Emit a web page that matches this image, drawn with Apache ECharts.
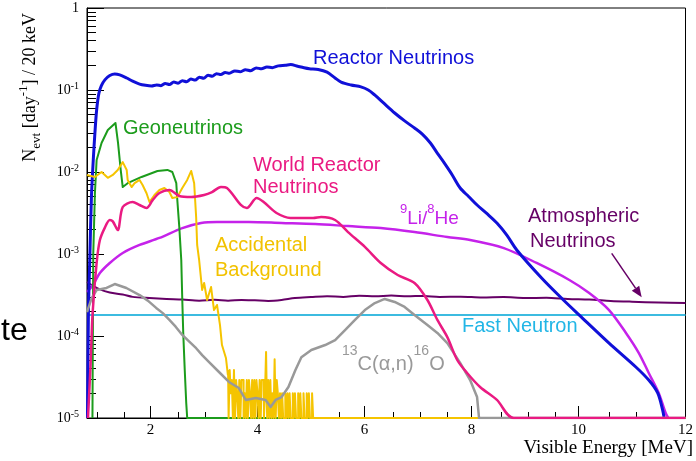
<!DOCTYPE html>
<html>
<head>
<meta charset="utf-8">
<script src="https://cdn.jsdelivr.net/npm/echarts@6/dist/echarts.min.js"></script>
<style>html,body{margin:0;padding:0;background:#fff;}#chart{width:696px;height:461px;}</style>
</head>
<body>
<div id="chart"></div>
<script>
// ---------- axes ----------
const X_MIN = 0.813, X_MAX = 12, Y_MIN = 1e-5, Y_MAX = 1;
const xMajorTicks = [2, 4, 6, 8, 10, 12];
const xMinorTicks = [1, 1.5, 2.5, 3, 3.5, 4.5, 5, 5.5, 6.5, 7, 7.5, 8.5, 9, 9.5, 10.5, 11, 11.5];
const yMinorTicks = [2e-5,3e-5,4e-5,5e-5,6e-5,7e-5,8e-5,9e-5,
  2e-4,3e-4,4e-4,5e-4,6e-4,7e-4,8e-4,9e-4,
  2e-3,3e-3,4e-3,5e-3,6e-3,7e-3,8e-3,9e-3,
  0.02,0.03,0.04,0.05,0.06,0.07,0.08,0.09,
  0.2,0.3,0.4,0.5,0.6,0.7,0.8,0.9];

// ---------- series values [energy MeV, events/day/20keV] ----------
const reactor = [[0.822,1e-5],[0.840,2e-4],[0.868,1.03e-3],[0.896,5e-3],[0.930,0.014],[0.961,0.03],[0.993,0.057],[1.035,0.091],[1.082,0.113],[1.147,0.133],[1.239,0.15],[1.332,0.157],[1.425,0.153],[1.555,0.14],[1.666,0.128],[1.796,0.118],[1.907,0.114],[2.019,0.112],
  [2.115,0.115],[2.195,0.113],[2.275,0.120],[2.355,0.117],[2.435,0.125],[2.515,0.121],[2.595,0.130],[2.675,0.126],[2.755,0.136],[2.835,0.132],[2.915,0.143],[2.995,0.139],[3.075,0.151],[3.155,0.147],[3.235,0.158],[3.315,0.154],[3.395,0.164],[3.475,0.160],[3.575,0.171],[3.675,0.167],[3.775,0.177],[3.875,0.172],[3.975,0.186],[4.075,0.181],[4.175,0.191],[4.275,0.187],[4.39,0.197],[4.52,0.200],[4.62,0.204],[4.75,0.195],[4.87,0.187],[4.97,0.182],[5.135,0.178],[5.3,0.165],[5.45,0.14],[5.562,0.125],[5.75,0.115],[5.933,0.109],[6.07,0.1],[6.19,0.087],[6.35,0.07],[6.564,0.0524],[6.75,0.042],[6.935,0.0344],[7.08,0.029],[7.232,0.0226],[7.36,0.017],[7.49,0.0129],[7.64,0.0092],[7.788,0.00638],[7.95,0.0050],[8.104,0.00396],[8.29,0.0031],[8.475,0.00239],[8.66,0.0017],[8.846,0.00112],[9.31,5.1e-4],[9.718,2.75e-4],[10.015,1.8e-4],[10.571,8.2e-5],[11.072,4.19e-5],[11.313,2.9e-5],[11.48,2.02e-5],[11.573,1.25e-5],[11.601,1e-5]];

const geo = [[0.915,1e-5],[0.930,1e-3],[0.961,5.5e-3],[0.993,0.014],[1.085,0.0226],[1.202,0.0325],[1.345,0.0396],[1.393,0.0226],[1.443,0.0106],[1.481,6.56e-3],[1.573,7.3e-3],[1.833,8.7e-3],[2.13,0.0103],[2.315,0.0106],[2.408,0.01],[2.482,7.3e-3],[2.501,4.56e-3],[2.538,2.14e-3],[2.575,8.45e-4],[2.594,2.75e-4],[2.612,1.09e-4],[2.64,3.85e-5],[2.668,1.52e-5],[2.686,1e-5],[12,1e-5]];

const accidental = [[0.813,9.2e-3],[0.961,8.7e-3],[1.085,0.01],[1.202,8.5e-3],[1.295,9.2e-3],[1.388,0.0106],[1.481,0.0132],[1.555,0.0106],[1.573,8e-3],[1.647,6.56e-3],[1.703,7.3e-3],[1.796,8e-3],[1.852,6.94e-3],[1.926,5.5e-3],[1.981,4.3e-3],[2.074,5.24e-3],[2.167,6.03e-3],[2.26,6.38e-3],[2.353,5.7e-3],[2.408,4.82e-3],[2.501,4.94e-3],[2.594,6.38e-3],[2.686,8e-3],[2.761,0.0103],[2.816,7.3e-3],[2.853,2.83e-3],[2.872,1.29e-3],[2.909,8.45e-4],[2.965,3.64e-4],[3.002,4.43e-4],[3.058,2.75e-4],[3.132,3.96e-4],[3.187,2.07e-4],[3.243,2.39e-4],[3.299,1.36e-4],[3.336,7.76e-5],[3.41,5.4e-5],[3.447,3.34e-5]];

const accidentalTail = [[3.45,3.85e-5],[3.47,1e-5],[3.49,3.85e-5],[3.51,2.0e-5],[3.53,2.9e-5],[3.55,1e-5],[3.57,3.85e-5],[3.59,1e-5],[3.61,2.9e-5],[3.63,2.0e-5],[3.65,1e-5],[3.67,2.9e-5],[3.69,1e-5],[3.71,2.9e-5],[3.73,2.9e-5],[3.75,1e-5],[3.77,2.0e-5],[3.79,1e-5],[3.81,2.9e-5],[3.83,1e-5],[3.85,2.9e-5],[3.87,2.0e-5],[3.89,1e-5],[3.91,2.9e-5],[3.93,1e-5],[3.95,2.9e-5],[3.97,1e-5],[3.99,2.9e-5],[4.01,2.0e-5],[4.03,1e-5],[4.05,2.9e-5],[4.07,1e-5],[4.09,2.9e-5],[4.11,2.9e-5],[4.13,1e-5],[4.15,2.0e-5],[4.17,6.4e-5],[4.19,1e-5],[4.21,2.9e-5],[4.23,1e-5],[4.25,2.9e-5],[4.27,1e-5],[4.29,2.0e-5],[4.31,1e-5],[4.33,5.2e-5],[4.35,1e-5],[4.37,2.9e-5],[4.39,2.0e-5],[4.41,1e-5],[4.43,2.0e-5],[4.45,1e-5],[4.47,2.0e-5],[4.49,1e-5],[4.51,1e-5],[4.53,2.0e-5],[4.55,1e-5],[4.57,2.0e-5],[4.59,1e-5],[4.61,2.0e-5],[4.63,1e-5],[4.65,1e-5],[4.67,2.0e-5],[4.69,1e-5],[4.71,2.0e-5],[4.73,1e-5],[4.75,1e-5],[4.77,2.0e-5],[4.79,1e-5],[4.81,2.0e-5],[4.83,1e-5],[4.85,1e-5],[4.87,2.0e-5],[4.89,1e-5],[4.91,1e-5],[4.93,2.0e-5],[4.95,1e-5],[4.97,2.0e-5],[4.99,1e-5],[5.01,1e-5],[5.03,2.0e-5],[5.05,1e-5],[12,1e-5]];

const worldReactor = [[0.831,1e-5],[0.881,4.7e-5],[0.918,1.9e-4],[0.993,7.8e-4],[1.054,1.48e-3],[1.147,2.1e-3],[1.239,2.6e-3],[1.295,2.5e-3],[1.388,1.96e-3],[1.481,3.74e-3],[1.666,4.3e-3],[1.796,3.96e-3],[1.926,3.64e-3],[2.037,4.5e-3],[2.167,5.54e-3],[2.353,6.03e-3],[2.538,5.1e-3],[2.761,4.96e-3],[3.002,5.25e-3],[3.15,5.7e-3],[3.317,6.56e-3],[3.429,6.38e-3],[3.688,3.96e-3],[3.8,3.64e-3],[3.985,4.82e-3],[4.115,4.3e-3],[4.356,3.16e-3],[4.616,2.75e-3],[5.039,2.75e-3],[5.19,2.83e-3],[5.45,2.6e-3],[5.692,1.85e-3],[6.007,1.22e-3],[6.304,7.77e-4],[6.62,5.54e-4],[6.935,4.43e-4],[7.176,2.75e-4],[7.362,1.57e-4],[7.548,9.7e-5],[7.733,5.1e-5],[7.918,3.54e-5],[8.16,2.39e-5],[8.475,1.66e-5],[8.79,1e-5],[12,1e-5]];

const lihe = [[0.813,3.44e-4],[0.924,4.19e-4],[1.054,5.86e-4],[1.239,7.77e-4],[1.481,1.03e-3],[1.796,1.29e-3],[2.167,1.57e-3],[2.594,2.07e-3],[2.946,2.39e-3],[3.243,2.46e-3],[3.837,2.46e-3],[4.449,2.39e-3],[5.08,2.32e-3],[5.692,2.19e-3],[6.304,2.07e-3],[6.935,1.85e-3],[7.548,1.61e-3],[7.974,1.48e-3],[8.605,1.18e-3],[9.217,7.77e-4],[9.829,4.82e-4],[10.2,3.34e-4],[10.571,2.07e-4],[10.887,1.09e-4],[11.128,6.2e-5],[11.313,3.54e-5],[11.499,2.02e-5],[11.629,1.15e-5],[11.679,1e-5]];

const atmospheric = [[0.813,4.56e-4],[0.924,4.1e-4],[1.054,3.7e-4],[1.239,3.4e-4],[1.481,3.2e-4],[1.666,3.0e-4],[1.98,2.9e-4],[2.3,2.83e-4],[2.6,2.78e-4],[2.91,2.7e-4],[3.2,2.76e-4],[3.45,2.7e-4],[3.7,2.75e-4],[3.95,2.72e-4],[4.2,2.68e-4],[4.45,2.75e-4],[4.7,2.9e-4],[5.0,2.98e-4],[5.3,3.05e-4],[5.6,3.0e-4],[5.9,3.1e-4],[6.2,3.05e-4],[6.5,3.12e-4],[6.8,3.05e-4],[7.1,3.08e-4],[7.4,3.0e-4],[7.8,3.02e-4],[8.2,2.95e-4],[8.6,2.98e-4],[9.0,2.9e-4],[9.4,2.92e-4],[9.8,2.82e-4],[10.2,2.78e-4],[10.6,2.68e-4],[11.0,2.62e-4],[11.5,2.56e-4],[12,2.52e-4]];

const fastNeutron = [[0.813,1.8e-4],[12,1.8e-4]];

const carbon = [[0.813,1.96e-4],[0.9,2.9e-4],[0.993,3.64e-4],[1.178,3.85e-4],[1.332,4.3e-4],[1.549,3.85e-4],[1.796,3.16e-4],[1.95,2.7e-4],[2.106,2.2e-4],[2.23,1.9e-4],[2.353,1.57e-4],[2.47,1.3e-4],[2.594,1.03e-4],[2.72,8.6e-5],[2.853,7.1e-5],[2.97,5.8e-5],[3.095,4.8e-5],[3.28,3.64e-5],[3.466,2.75e-5],[3.651,2.32e-5],[3.781,1.66e-5],[3.967,1.75e-5],[4.152,1.66e-5],[4.245,1.36e-5],[4.338,1.66e-5],[4.45,1.8e-5],[4.578,2.39e-5],[4.709,3.85e-5],[4.82,5.5e-5],[5.006,6.75e-5],[5.265,7.76e-5],[5.451,8.9e-5],[5.636,1.18e-4],[5.822,1.57e-4],[6.007,2.07e-4],[6.193,2.52e-4],[6.378,2.83e-4],[6.564,2.6e-4],[6.75,2.26e-4],[6.935,1.8e-4],[7.176,1.36e-4],[7.362,1.09e-4],[7.548,8.2e-5],[7.788,4.7e-5],[7.974,2.9e-5],[8.104,1.8e-5],[8.141,1e-5],[12,1e-5]];

// ---------- styles ----------
const SERIF = 'Liberation Serif';
const SANS = 'Liberation Sans';
const C = {
  reactor: '#1010d8', geo: '#1c9c1c', acc: '#f5c400', world: '#ea1a82',
  lihe: '#c522ea', atm: '#660066', fast: '#3cbbe0', carbon: '#999999'
};

function line(name, data, color, width, extra) {
  return Object.assign({
    type: 'line', name: name, data: data, symbol: 'none', showSymbol: false,
    lineStyle: { color: color, width: width, join: 'round' }, itemStyle: { color: color },
    xAxisIndex: 0, yAxisIndex: 0, animation: false, silent: true
  }, extra || {});
}
const smooth = { smooth: 0.3 };

function label(text, x, baseline, color, size, extra) {
  const fs = size || 20;
  return Object.assign({
    type: 'text', x: x, y: baseline - 0.3465 * fs, z: 100,
    style: { text: text, fill: color, font: fs + 'px "' + SANS + '"', align: 'left', verticalAlign: 'middle' }
  }, extra || {});
}

const chart = echarts.init(document.getElementById('chart'), null, { renderer: 'canvas' });

const option = {
  animation: false,
  backgroundColor: '#ffffff',
  grid: [
    { left: 87, right: 6, top: 8, bottom: 43, show: true, borderColor: '#000', borderWidth: 1, backgroundColor: 'transparent', containLabel: false },
    { left: 87, right: 6, top: 8, bottom: 43, show: false, containLabel: false }
  ],
  xAxis: [
    { type: 'value', gridIndex: 0, min: X_MIN, max: X_MAX, position: 'bottom',
      axisLine: { show: true, onZero: false, lineStyle: { color: '#000', width: 1 } },
      axisTick: { show: true, inside: true, length: 12, customValues: xMajorTicks, lineStyle: { color: '#000', width: 1 } },
      axisLabel: { show: true, customValues: xMajorTicks, fontFamily: SERIF, fontSize: 15, color: '#000', margin: 5 },
      splitLine: { show: false } },
    { type: 'value', gridIndex: 1, min: X_MIN, max: X_MAX, position: 'bottom',
      axisLine: { show: false, onZero: false },
      axisTick: { show: true, inside: true, length: 6, customValues: xMinorTicks, lineStyle: { color: '#000', width: 1 } },
      axisLabel: { show: false }, splitLine: { show: false } }
  ],
  yAxis: [
    { type: 'log', gridIndex: 0, logBase: 10, min: Y_MIN, max: Y_MAX, position: 'left',
      axisLine: { show: true, onZero: false, lineStyle: { color: '#000', width: 1 } },
      axisTick: { show: true, inside: true, length: 17, lineStyle: { color: '#000', width: 1 } },
      axisLabel: {
        show: true, margin: 8, color: '#000',
        formatter: function (v) {
          const e = Math.round(Math.log10(v));
          return e === 0 ? '{b|1}' : '{b|10}{s|' + e + '}';
        },
        rich: {
          b: { fontFamily: SERIF, fontSize: 14, lineHeight: 18, color: '#000' },
          s: { fontFamily: SERIF, fontSize: 10, lineHeight: 10, verticalAlign: 'top', color: '#000' }
        }
      },
      splitLine: { show: false }, minorTick: { show: false } },
    { type: 'value', gridIndex: 1, min: -5, max: 0, position: 'left',
      axisLine: { show: false, onZero: false },
      axisTick: { show: true, inside: true, length: 9, customValues: yMinorTicks.map(function (v) { return Math.log10(v); }), lineStyle: { color: '#000', width: 1 } },
      axisLabel: { show: false }, splitLine: { show: false } }
  ],
  series: [
    line('Fast Neutron', fastNeutron, C.fast, 2),
    line('Atmospheric Neutrinos', atmospheric, C.atm, 2, smooth),
    line('9Li/8He', lihe, C.lihe, 2.5, smooth),
    line('Reactor Neutrinos', reactor, C.reactor, 3, smooth),
    line('Geoneutrinos', geo, C.geo, 2),
    line('Accidental Background', accidental, C.acc, 2),
    line('Accidental Background tail', accidentalTail, C.acc, 2, { step: 'middle' }),
    line('13C(α,n)16O', carbon, C.carbon, 2.5),
    line('World Reactor Neutrinos', worldReactor, C.world, 2.5, smooth)
  ],
  graphic: [
    // axis titles
    { type: 'text', x: 30, y: 13, rotation: Math.PI / 2, z: 100,
      style: { text: '{n|N}{sub|evt}{n| [day}{sup|-1}{n|] / 20 keV}', align: 'right', verticalAlign: 'middle',
        rich: {
          n: { fontFamily: SERIF, fontSize: 18, lineHeight: 26, fill: '#000' },
          sub: { fontFamily: SERIF, fontSize: 13, lineHeight: 13, verticalAlign: 'bottom', fill: '#000' },
          sup: { fontFamily: SERIF, fontSize: 13, lineHeight: 13, verticalAlign: 'top', fill: '#000' }
        } } },
    { type: 'text', x: 693, y: 454 - 0.3375 * 19, z: 100,
      style: { text: 'Visible Energy [MeV]', fill: '#000', font: '19px "' + SERIF + '"', align: 'right', verticalAlign: 'middle' } },
    // fragment at left
    { type: 'text', x: 1, y: 342.5 - 0.3465 * 32, z: 100,
      style: { text: 'te', fill: '#000', font: '32px "' + SANS + '"', align: 'left', verticalAlign: 'middle' } },
    // annotations
    label('Reactor Neutrinos', 313, 65, C.reactor),
    label('Geoneutrinos', 123, 135, C.geo),
    label('World Reactor', 253, 172, C.world),
    label('Neutrinos', 253, 194.5, C.world),
    label('Accidental', 215, 252, '#f2c200'),
    label('Background', 215, 277, '#f2c200'),
    label('Atmospheric', 528, 223, C.atm),
    label('Neutrinos', 530, 248, C.atm),
    label('Fast Neutron', 462, 333, '#22b6e6'),
    { type: 'text', x: 400, y: 225 - 0.3465 * 19, z: 100,
      style: { text: '{s|9}{m|Li/}{s|8}{m|He}', align: 'left', verticalAlign: 'middle',
        rich: {
          m: { fontFamily: SANS, fontSize: 19, lineHeight: 30, fill: C.lihe },
          s: { fontFamily: SANS, fontSize: 13, lineHeight: 13, verticalAlign: 'top', fill: C.lihe }
        } } },
    { type: 'text', x: 342, y: 371 - 0.3465 * 20, z: 100,
      style: { text: '{s|13}{m|C(α,n)}{s|16}{m|O}', align: 'left', verticalAlign: 'middle',
        rich: {
          m: { fontFamily: SANS, fontSize: 20, lineHeight: 40, fill: C.carbon },
          s: { fontFamily: SANS, fontSize: 14, lineHeight: 14, verticalAlign: 'top', fill: C.carbon }
        } } },
    // arrow for atmospheric neutrinos
    { type: 'line', z: 100, shape: { x1: 611.7, y1: 253.3, x2: 635.5, y2: 288.2 }, style: { stroke: C.atm, lineWidth: 1.5 } },
    { type: 'polygon', z: 100, shape: { points: [[641.7, 297.3], [631.8, 290.7], [639.2, 285.7]] }, style: { fill: C.atm } }
  ]
};
chart.setOption(option);
</script>
</body>
</html>
